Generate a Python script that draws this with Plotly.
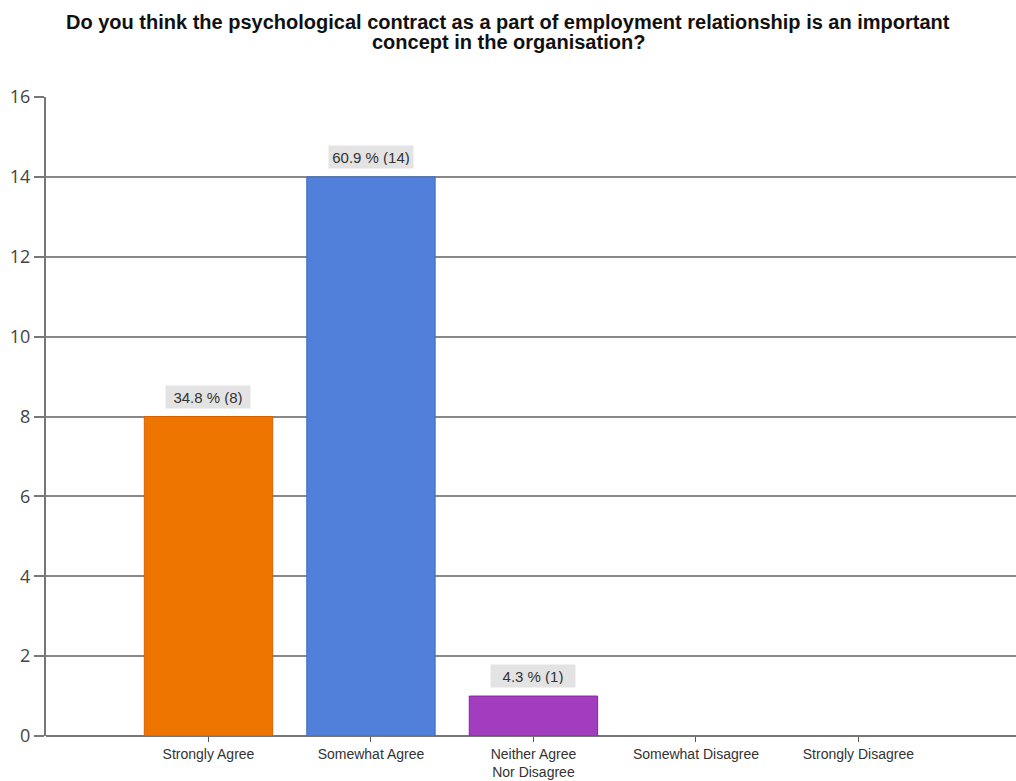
import plotly.graph_objects as go

categories = ["Strongly Agree", "Somewhat Agree", "Neither Agree<br>Nor Disagree",
              "Somewhat Disagree", "Strongly Disagree"]
counts = [8, 14, 1, 0, 0]
percents = [34.8, 60.9, 4.3, 0.0, 0.0]
colors = ["#EE7500", "#5080DA", "#A23DC0", "#999999", "#999999"]
line_colors = ["#D86000", "#3D6CC5", "#8B22A3", "#999999", "#999999"]
yticks = [0, 2, 4, 6, 8, 10, 12, 14, 16]
title_lines = ["Do you think the psychological contract as a part of employment relationship is an important",
               "concept in the organisation?"]

x_idx = list(range(len(categories)))
line_widths = [1 if c > 0 else 0 for c in counts]

W, H = 1016, 781
ML, MR, MT, MB = 46, 0, 97, 45
plot_h = H - MT - MB

fig = go.Figure()
fig.add_trace(go.Bar(
    x=x_idx, y=counts, width=0.79,
    marker=dict(color=colors, line=dict(color=line_colors, width=line_widths)),
    showlegend=False, hoverinfo="skip",
))

for i, (c, p) in enumerate(zip(counts, percents)):
    if c > 0:
        fig.add_annotation(
            x=i, y=c, text=f"{p} % ({c})", showarrow=False,
            yanchor="bottom", yshift=8, bgcolor="#E3E3E3",
            font=dict(family="Liberation Sans, Arial", size=15, color="#333333"),
            borderpad=3, width=78, height=16,
        )

# title lines (figure y of line centres)
for txt, yc in zip(title_lines, [22, 42]):
    fig.add_annotation(
        xref="paper", yref="paper", x=(W / 2 - ML) / (W - ML - MR),
        y=(H - MB - yc) / plot_h, xanchor="center", yanchor="middle",
        text=f"<b>{txt}</b>", showarrow=False,
        font=dict(family="Liberation Sans, Arial", size=20, color="#111111"),
    )

fig.update_layout(
    width=W, height=H,
    paper_bgcolor="white", plot_bgcolor="white",
    margin=dict(l=ML, r=MR, t=MT, b=MB, autoexpand=False),
)

fig.update_xaxes(
    range=[-1.0, 4.97], tickmode="array", tickvals=x_idx, ticktext=categories,
    ticks="outside", ticklen=5, tickwidth=1, tickcolor="#555555",
    showgrid=False, zeroline=False, showline=False, automargin=False,
    tickfont=dict(family="Liberation Sans, Arial", size=14, color="#333333"),
)
fig.update_yaxes(
    range=[0, 16], tickmode="array", tickvals=yticks,
    ticks="outside", ticklen=10, tickwidth=2, tickcolor="#777777",
    showgrid=True, gridcolor="#888888", gridwidth=2,
    zeroline=True, zerolinecolor="#777777", zerolinewidth=2,
    showline=True, linecolor="#777777", linewidth=2, automargin=False,
    tickfont=dict(family="Open Sans, Liberation Sans", size=18, color="#444444"),
)

fig.write_html(
    "out.html",
    config={"displayModeBar": False},
    post_script="document.body.style.margin='0';document.body.style.overflow='hidden';",
)
